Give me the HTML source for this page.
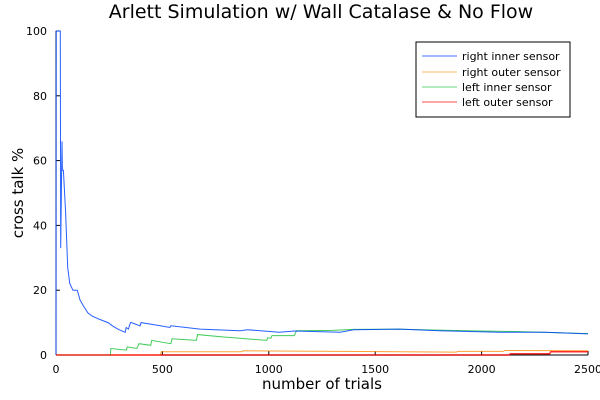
<!DOCTYPE html>
<html><head><meta charset="utf-8">
<style>
body{margin:0;background:#fff;}
svg{display:block;font-family:"DejaVu Sans","Liberation Sans",sans-serif;}
</style></head>
<body>
<svg id="chart" width="600" height="400" viewBox="0 0 600 400">
<text x="321" y="18" text-anchor="middle" font-size="19" fill="#000">Arlett Simulation w/ Wall Catalase &amp; No Flow</text>
<g id="axes"></g>
<g id="series"></g>
<text x="322" y="389" text-anchor="middle" font-size="15">number of trials</text>
<text transform="translate(23,193) rotate(-90)" text-anchor="middle" font-size="15">cross talk %</text>
<g>
<rect x="416" y="42" width="154" height="75" fill="#fff" stroke="#000" stroke-width="1"/>
<g><line x1="422" x2="457" y1="56" y2="56" stroke="#0044ff" stroke-opacity="0.75"/><text x="462" y="60" font-size="11">right inner sensor</text></g>
<g><line x1="422" x2="457" y1="72" y2="72" stroke="#ff8800" stroke-opacity="0.6"/><text x="462" y="76" font-size="11">right outer sensor</text></g>
<g><line x1="422" x2="457" y1="87" y2="87" stroke="#00bb22" stroke-opacity="0.6"/><text x="462" y="91" font-size="11">left inner sensor</text></g>
<g><line x1="422" x2="457" y1="102" y2="102" stroke="#ff0000" stroke-opacity="0.7"/><text x="462" y="106" font-size="11">left outer sensor</text></g>
</g>
</svg>
<script>
const xTicks=[0,500,1000,1500,2000,2500];
const yTicks=[0,20,40,60,80,100];
const blueX=[0,1,8,20,22,28,30,35,45,55,65,80,100,113,130,150,170,205,245,265,290,325,330,340,350,355,395,400,490,535,540,677,865,900,1050,1120,1335,1400,1615,1800,2085,2300,2500];
const blueY=[0,100,100,100,33,66,57,57,44,27,22,20,20,17,15,13,12,11,10,9,8,7,8.5,8,10,10,9,10,9,8.5,9,8,7.5,7.8,7,7.4,7,7.8,8,7.5,7,7,6.5];
const orangeX=[0,490,495,870,880,1880,1890,2100,2110,2500];
const orangeY=[0,0,1,1,1.3,0.9,1.1,1.1,1.4,1.3];
const greenX=[0,255,258,330,335,380,390,445,450,540,545,660,665,800,805,990,995,1010,1015,1120,1130,1140,1300,1400,1600,1850,2000,2200,2500];
const greenY=[0,0,2,1.5,2.5,2,3.5,3,4.5,3.5,5,4.5,6.3,5.5,5.5,4.5,5.3,5.2,6,6,7.5,7.5,7.6,7.9,8,7.6,7.4,7.2,6.6];
const redX=[0,2130,2135,2320,2325,2500];
const redY=[0,0,0.4,0.4,1,1];
const NS='http://www.w3.org/2000/svg';
const X0=56,X1=588,Y0=355,Y1=31;
function sx(v){return X0+(v/2500)*(X1-X0);}
function sy(v){return Y0-(v/100)*(Y0-Y1);}
const axes=document.getElementById('axes');
function mk(t,a,p){const e=document.createElementNS(NS,t);for(const k in a)e.setAttribute(k,a[k]);(p||axes).appendChild(e);return e;}
let el=mk('line',{x1:X0,x2:X0,y1:Y1,y2:Y0,stroke:'#000'});


el=mk('line',{x1:X0,x2:X1,y1:Y0,y2:Y0,stroke:'#000'});


xTicks.forEach(v=>{
 const t=mk('line',{x1:sx(v),x2:sx(v),y1:Y0,y2:Y0-4,stroke:'#000'});
 
 
 const l=mk('text',{x:sx(v),y:373,'text-anchor':'middle','font-size':'11'});
 l.textContent=v;
 
 
});
yTicks.forEach(v=>{
 const t=mk('line',{x1:X0,x2:X0+4,y1:sy(v),y2:sy(v),stroke:'#000'});
 
 
 const l=mk('text',{x:47,y:sy(v)+4,'text-anchor':'end','font-size':'11'});
 l.textContent=v;
 
 
});
const ser=document.getElementById('series');
function line(xs,ys,col,op,name,w){
 const p=mk('polyline',{points:xs.map((x,i)=>sx(x).toFixed(1)+','+sy(ys[i]).toFixed(1)).join(' '),fill:'none',stroke:col,'stroke-opacity':op,'stroke-width':w||1},ser);
 
 
}
line(orangeX,orangeY,'#ff8800',0.8,'series-right-outer');
line(greenX,greenY,'#00bb22',0.75,'series-left-inner');
line(blueX,blueY,'#0044ff',0.85,'series-right-inner');
line(redX,redY,'#ff0000',0.8,'series-left-outer',1.5);
</script>
</body></html>
